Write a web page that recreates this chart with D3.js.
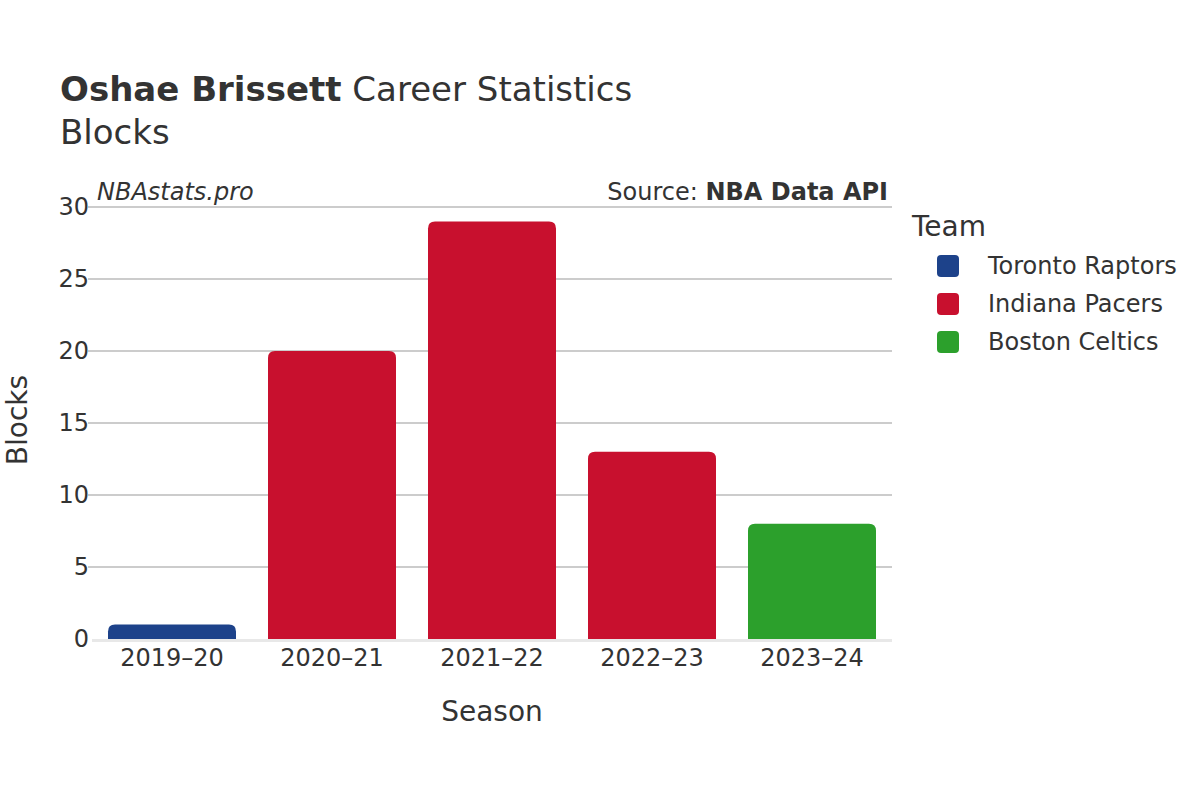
<!DOCTYPE html>
<html>
<head>
<meta charset="utf-8">
<script src="https://cdn.jsdelivr.net/npm/d3@7"></script>
<style>
  body { margin: 0; background: #fff; }
  text { font-family: "DejaVu Sans", sans-serif; fill: #333; }
</style>
</head>
<body>
<svg id="chart" width="1200" height="800"></svg>
<script>
// data
var seasons = ["2019–20", "2020–21", "2021–22", "2022–23", "2023–24"];
var blocks = [1, 20, 29, 13, 8];
var teams = ["Toronto Raptors", "Indiana Pacers", "Indiana Pacers", "Indiana Pacers", "Boston Celtics"];
var legendTeams = ["Toronto Raptors", "Indiana Pacers", "Boston Celtics"];
var teamColors = ["#1d428a", "#c8102e", "#2ca02c"];
var yTicks = [0, 5, 10, 15, 20, 25, 30];

var svg = d3.select("#chart");

var x = d3.scaleBand()
    .domain(seasons)
    .range([92, 892])
    .paddingInner(0.2)
    .paddingOuter(0.1);

var y = d3.scaleLinear()
    .domain([0, 30])
    .range([639, 207]);

var col = d3.scaleOrdinal()
    .domain(legendTeams)
    .range(teamColors);

// title
var title = svg.append("text")
    .attr("x", 60)
    .attr("y", 101)
    .style("font-size", "34px");
title.append("tspan").style("font-weight", "bold").text("Oshae Brissett");
title.append("tspan").text(" Career Statistics");

svg.append("text")
    .attr("x", 60)
    .attr("y", 144)
    .style("font-size", "34px")
    .text("Blocks");

// gridlines + y labels
svg.append("g").selectAll("line")
    .data(yTicks.filter(function(d) { return d > 0; }))
    .enter().append("line")
    .attr("x1", 88)
    .attr("x2", 892)
    .attr("y1", function(d) { return y(d); })
    .attr("y2", function(d) { return y(d); })
    .style("stroke", "#999")
    .style("stroke-width", 1);

svg.append("g").selectAll("text")
    .data(yTicks)
    .enter().append("text")
    .attr("x", 89)
    .attr("y", function(d) { return y(d); })
    .attr("dy", "0.35em")
    .style("text-anchor", "end")
    .style("font-size", "24px")
    .text(function(d) { return d; });

// bars with rounded tops
function barPath(x0, w, yTop, yBot, r) {
    r = Math.min(r, (yBot - yTop), w / 2);
    return "M" + x0 + "," + yBot +
        "V" + (yTop + r) +
        "Q" + x0 + "," + yTop + " " + (x0 + r) + "," + yTop +
        "H" + (x0 + w - r) +
        "Q" + (x0 + w) + "," + yTop + " " + (x0 + w) + "," + (yTop + r) +
        "V" + yBot + "Z";
}

svg.append("g").selectAll("path")
    .data(seasons)
    .enter().append("path")
    .attr("d", function(d, i) {
        return barPath(x(d), x.bandwidth(), y(blocks[i]), y(0), 7);
    })
    .style("fill", function(d, i) { return col(teams[i]); });

// zero line
svg.append("line")
    .attr("x1", 92)
    .attr("x2", 892)
    .attr("y1", y(0) + 1.5)
    .attr("y2", y(0) + 1.5)
    .style("stroke", "#e8e8e8")
    .style("stroke-width", 3);

// x labels
svg.append("g").selectAll("text")
    .data(seasons)
    .enter().append("text")
    .attr("x", function(d) { return x(d) + x.bandwidth() / 2; })
    .attr("y", 666)
    .style("text-anchor", "middle")
    .style("font-size", "24px")
    .text(function(d) { return d; });

// axis titles
svg.append("text")
    .attr("x", 492)
    .attr("y", 721)
    .style("text-anchor", "middle")
    .style("font-size", "28px")
    .text("Season");

svg.append("text")
    .attr("transform", "translate(27,420) rotate(-90)")
    .style("text-anchor", "middle")
    .style("font-size", "28px")
    .text("Blocks");

// watermark + source
svg.append("text")
    .attr("x", 97)
    .attr("y", 200)
    .style("font-size", "24px")
    .style("font-style", "italic")
    .text("NBAstats.pro");

var src = svg.append("text")
    .attr("x", 888)
    .attr("y", 200)
    .style("text-anchor", "end")
    .style("font-size", "24px");
src.append("tspan").text("Source: ");
src.append("tspan").style("font-weight", "bold").text("NBA Data API");

// legend
svg.append("text")
    .attr("x", 912)
    .attr("y", 236)
    .style("font-size", "28px")
    .text("Team");

var legend = svg.append("g").selectAll("g")
    .data(legendTeams)
    .enter().append("g")
    .attr("transform", function(d, i) { return "translate(0," + (266 + i * 38) + ")"; });

legend.append("rect")
    .attr("x", 937)
    .attr("y", -11)
    .attr("width", 22)
    .attr("height", 22)
    .attr("rx", 4)
    .style("fill", function(d) { return col(d); });

legend.append("text")
    .attr("x", 988)
    .attr("y", 0)
    .attr("dy", "0.35em")
    .style("font-size", "24px")
    .text(function(d) { return d; });
</script>
</body>
</html>
